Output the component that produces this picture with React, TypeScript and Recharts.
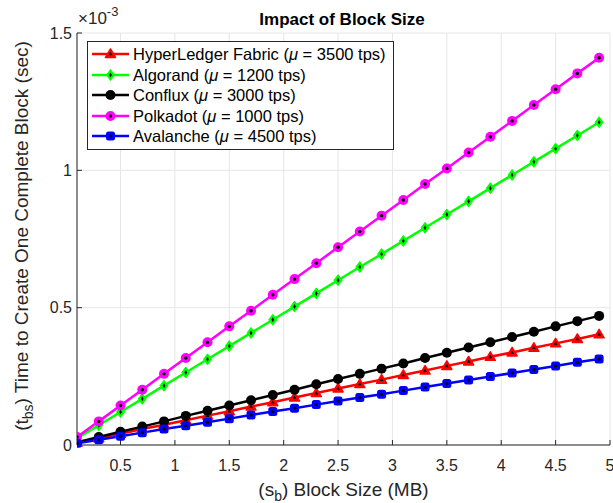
import React from "react"
import {
  LineChart,
  Line,
  XAxis,
  YAxis,
  CartesianGrid,
  Legend,
  Label,
} from "recharts"

// block size (MB)
const blockSizes = [
  0.1, 0.3, 0.5, 0.7, 0.9, 1.1, 1.3, 1.5, 1.7, 1.9, 2.1, 2.3, 2.5, 2.7, 2.9,
  3.1, 3.3, 3.5, 3.7, 3.9, 4.1, 4.3, 4.5, 4.7, 4.9,
]

// time to create one block, in units of 1e-3 sec
const hyperledger = [
  0.008, 0.025, 0.041, 0.058, 0.074, 0.09, 0.107, 0.123, 0.14, 0.156, 0.173,
  0.189, 0.206, 0.222, 0.238, 0.255, 0.271, 0.288, 0.304, 0.321, 0.337, 0.354,
  0.37, 0.386, 0.403,
]
const algorand = [
  0.024, 0.072, 0.12, 0.168, 0.216, 0.264, 0.312, 0.36, 0.408, 0.456, 0.504,
  0.552, 0.6, 0.648, 0.695, 0.743, 0.791, 0.839, 0.887, 0.935, 0.983, 1.031,
  1.079, 1.127, 1.175,
]
const conflux = [
  0.01, 0.029, 0.048, 0.067, 0.086, 0.106, 0.125, 0.144, 0.163, 0.182, 0.201,
  0.221, 0.24, 0.259, 0.278, 0.297, 0.317, 0.336, 0.355, 0.374, 0.393, 0.412,
  0.432, 0.451, 0.47,
]
const polkadot = [
  0.029, 0.086, 0.144, 0.201, 0.259, 0.317, 0.374, 0.432, 0.489, 0.547, 0.604,
  0.662, 0.72, 0.777, 0.835, 0.892, 0.95, 1.007, 1.065, 1.122, 1.18, 1.238,
  1.295, 1.353, 1.41,
]
const avalanche = [
  0.006, 0.019, 0.032, 0.045, 0.058, 0.07, 0.083, 0.096, 0.109, 0.122, 0.134,
  0.147, 0.16, 0.173, 0.185, 0.198, 0.211, 0.224, 0.237, 0.249, 0.262, 0.275,
  0.288, 0.301, 0.313,
]

const xTicks = [0.5, 1, 1.5, 2, 2.5, 3, 3.5, 4, 4.5, 5]
const yTicks = [0, 0.5, 1, 1.5]

type Shape = "triangle" | "diamond" | "circle" | "square"

const seriesList: {
  key: string
  name: string
  mu: string
  color: string
  shape: Shape
  values: number[]
}[] = [
  { key: "hyper", name: "HyperLedger Fabric", mu: "3500", color: "#ff0000", shape: "triangle", values: hyperledger },
  { key: "algo", name: "Algorand", mu: "1200", color: "#00ff00", shape: "diamond", values: algorand },
  { key: "conflux", name: "Conflux", mu: "3000", color: "#000000", shape: "circle", values: conflux },
  { key: "polka", name: "Polkadot", mu: "1000", color: "#ff00ff", shape: "circle", values: polkadot },
  { key: "aval", name: "Avalanche", mu: "4500", color: "#0000ff", shape: "square", values: avalanche },
]

const data = blockSizes.map((x, i) => {
  const row: { [k: string]: number } = { x }
  seriesList.forEach((s) => (row[s.key] = s.values[i]))
  return row
})

const FONT = '"Liberation Sans", Arial, Helvetica, sans-serif'
const AXIS = "#262626"

const Marker = ({ cx, cy, color, shape }: { cx: number; cy: number; color: string; shape: Shape }) => {
  if (shape === "triangle") {
    return (
      <g>
        <path d={`M${cx},${cy - 5} L${cx + 5},${cy + 3.5} L${cx - 5},${cy + 3.5} Z`} fill={color} stroke={color} strokeWidth={1.5} strokeLinejoin="round" />
        <path d={`M${cx},${cy - 2} L${cx + 1.8},${cy + 1.3} L${cx - 1.8},${cy + 1.3} Z`} fill="#000" />
      </g>
    )
  }
  if (shape === "diamond") {
    return (
      <g>
        <path d={`M${cx},${cy - 5.5} L${cx + 4},${cy} L${cx},${cy + 5.5} L${cx - 4},${cy} Z`} fill={color} stroke={color} strokeWidth={1} />
        <path d={`M${cx},${cy - 2.5} L${cx + 1.3},${cy} L${cx},${cy + 2.5} L${cx - 1.3},${cy} Z`} fill="#000" />
      </g>
    )
  }
  if (shape === "square") {
    return (
      <g>
        <rect x={cx - 4.5} y={cy - 4.5} width={9} height={9} rx={2.5} fill={color} />
        <circle cx={cx} cy={cy} r={1.6} fill="#000" />
      </g>
    )
  }
  return (
    <g>
      <circle cx={cx} cy={cy} r={5} fill={color} />
      <circle cx={cx} cy={cy} r={1.7} fill="#000" />
    </g>
  )
}

const LegendBox = () => (
  <div
    style={{
      border: `1px solid ${AXIS}`,
      background: "#fff",
      padding: "2px 7px 2px 4px",
      fontFamily: FONT,
      fontSize: 16.5,
      color: "#000",
      lineHeight: "20.5px",
    }}
  >
    {seriesList.map((s) => (
      <div key={s.key} style={{ display: "flex", alignItems: "center", height: 20.5 }}>
        <svg width={41} height={20} style={{ flex: "none" }}>
          <line x1={0} y1={10} x2={37} y2={10} stroke={s.color} strokeWidth={2.5} />
          <Marker cx={18.5} cy={10} color={s.color} shape={s.shape} />
        </svg>
        <span style={{ whiteSpace: "nowrap" }}>
          {s.name} (<i>μ</i> = {s.mu} tps)
        </span>
      </div>
    ))}
  </div>
)

const App: React.FC = () => {
  return (
    <div style={{ position: "absolute", left: 0, top: 0 }}>
      <LineChart
        width={613}
        height={503}
        data={data}
        margin={{ top: 33, right: 3, left: 37, bottom: 28 }}
        style={{ fontFamily: FONT }}
      >
        <CartesianGrid stroke="#e6e6e6" strokeWidth={1} />
        <XAxis
          dataKey="x"
          type="number"
          domain={[0.1, 5]}
          ticks={xTicks}
          allowDataOverflow
          height={30}
          tickSize={-5}
          tickMargin={20}
          tick={{ fontSize: 16, fill: AXIS }}
          stroke={AXIS}
          interval={0}
        >
          <Label
            content={({ viewBox }: any) => (
              <text
                x={viewBox.x + viewBox.width / 2}
                y={viewBox.y + 51}
                textAnchor="middle"
                fontSize={19}
                fill={AXIS}
              >
                (s<tspan dy={5} fontSize={14}>b</tspan>
                <tspan dy={-5}>) Block Size (MB)</tspan>
              </text>
            )}
          />
        </XAxis>
        <XAxis
          xAxisId="top"
          orientation="top"
          type="number"
          domain={[0.1, 5]}
          ticks={xTicks}
          height={0}
          tickSize={-5}
          tickFormatter={() => ""}
          stroke={AXIS}
          interval={0}
        />
        <YAxis
          type="number"
          domain={[0, 1.5]}
          ticks={yTicks}
          width={40}
          tickSize={-5}
          tickMargin={10}
          tick={{ fontSize: 16, fill: AXIS }}
          stroke={AXIS}
          interval={0}
        >
          <Label
            content={({ viewBox }: any) => {
              const cx = 28
              const cy = viewBox.y + viewBox.height / 2 - 3
              return (
                <text
                  x={cx}
                  y={cy}
                  transform={`rotate(-90 ${cx} ${cy})`}
                  textAnchor="middle"
                  fontSize={19}
                  fill={AXIS}
                >
                  (t<tspan dy={5} fontSize={14}>bs</tspan>
                  <tspan dy={-5}>) Time to Create One Complete Block (sec)</tspan>
                </text>
              )
            }}
          />
        </YAxis>
        <YAxis
          yAxisId="right"
          orientation="right"
          type="number"
          domain={[0, 1.5]}
          ticks={yTicks}
          width={0}
          tickSize={-5}
          tickFormatter={() => ""}
          stroke={AXIS}
          interval={0}
        />
        <text x={342} y={25} textAnchor="middle" fontSize={17} fontWeight="bold" fill="#000">
          Impact of Block Size
        </text>
        <text x={78} y={24} fontSize={17} fill={AXIS}>
          ×10<tspan dy={-8} fontSize={13}>-3</tspan>
        </text>
        {seriesList.map((s) => (
          <Line
            key={s.key}
            dataKey={s.key}
            name={s.name}
            stroke={s.color}
            strokeWidth={2.5}
            isAnimationActive={false}
            dot={(p: any) => (
              <Marker key={`${s.key}-${p.index}`} cx={p.cx} cy={p.cy} color={s.color} shape={s.shape} />
            )}
          />
        ))}
        <Legend
          layout="vertical"
          align="center"
          verticalAlign="middle"
          content={() => <LegendBox />}
          wrapperStyle={{ left: 87, top: 41, width: "auto" }}
        />
      </LineChart>
    </div>
  )
}

export default App
